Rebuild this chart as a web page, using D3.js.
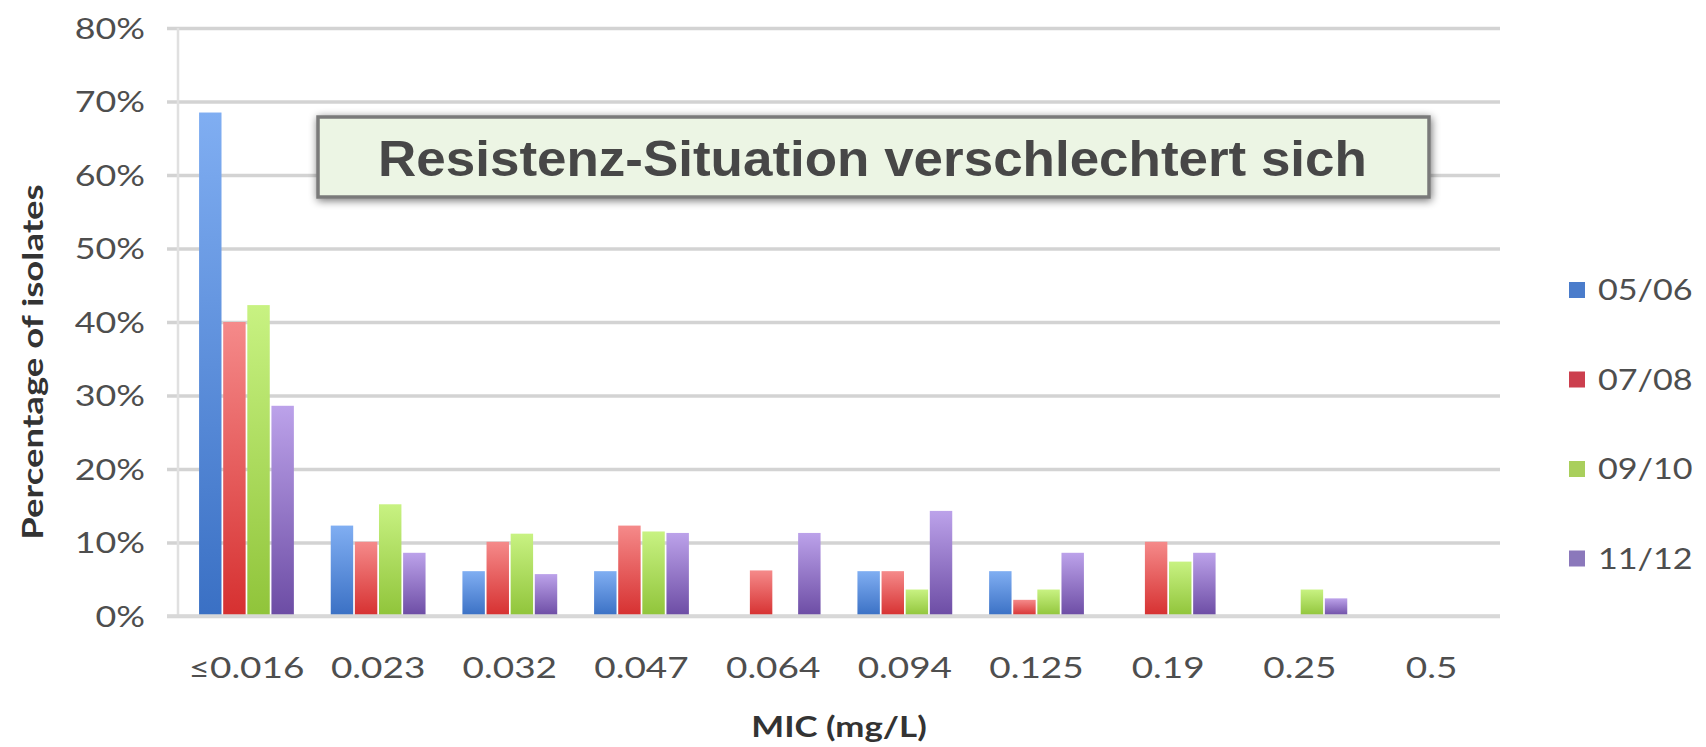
<!DOCTYPE html>
<html><head><meta charset="utf-8">
<script src="https://cdn.jsdelivr.net/npm/d3@7"></script>
<style>body{margin:0;background:#fff;} svg{display:block}</style>
</head><body><svg id="chart" width="1706" height="747"></svg>
<script>
const categories = ["≤0.016","0.023","0.032","0.047","0.064","0.094","0.125","0.19","0.25","0.5"];
const seriesNames = ["05/06","07/08","09/10","11/12"];
const values0506 = [68.5,12.3,6.1,6.1,0,6.1,6.1,0,0,0];
const values0708 = [40,10.1,10.1,12.3,6.2,6.1,2.2,10.1,0,0];
const values0910 = [42.3,15.2,11.2,11.5,0,3.6,3.6,7.4,3.6,0];
const values1112 = [28.6,8.6,5.7,11.3,11.3,14.3,8.6,8.6,2.4,0];
const yTickValues = [0,10,20,30,40,50,60,70,80];
const yTickLabels = ["0%","10%","20%","30%","40%","50%","60%","70%","80%"];
const xTitle = "MIC (mg/L)";
const yTitle = "Percentage of isolates";
const annotation = "Resistenz-Situation verschlechtert sich";

(function(){
const seriesValues = [values0506, values0708, values0910, values1112];
const gradTop = ["#80aef2","#f58a8a","#c8f282","#bca2ea"];
const gradBot = ["#3a70c4","#d63030","#90c43a","#6c4ca4"];
const legendColors = ["#4a7ccb","#cc3f4e","#a9cf5c","#8b78bb"];

const svg = d3.select("#chart");
const pL = 178, pR = 1500, pT = 28, pB = 616;
const sxY = 1.28, sxX = 1.32, sxL = 1.22;
const labelFont = "Lato, 'Open Sans', sans-serif";
const labelColor = "#4e4e4e";

const defs = svg.append("defs");
seriesNames.forEach((s,i)=>{
  const g = defs.append("linearGradient").attr("id","g"+i).attr("x1",0).attr("y1",0).attr("x2",0).attr("y2",1);
  g.append("stop").attr("offset","0%").attr("stop-color",gradTop[i]);
  g.append("stop").attr("offset","100%").attr("stop-color",gradBot[i]);
});
const f = defs.append("filter").attr("id","shadow").attr("x","-5%").attr("y","-30%").attr("width","110%").attr("height","160%");
f.append("feGaussianBlur").attr("in","SourceAlpha").attr("stdDeviation",4).attr("result","b");
f.append("feOffset").attr("in","b").attr("dx",1).attr("dy",2).attr("result","o");
f.append("feComponentTransfer").attr("in","o").attr("result","o2").append("feFuncA").attr("type","linear").attr("slope",0.55);
const fm = f.append("feMerge");
fm.append("feMergeNode").attr("in","o2");
fm.append("feMergeNode").attr("in","SourceGraphic");

const y = d3.scaleLinear().domain([0,80]).range([pB, pT]);
const x0 = d3.scaleBand().domain(categories).range([pL, pR]).paddingInner(0.28).paddingOuter(0.16);
const x1 = d3.scaleBand().domain(seriesNames).range([0, x0.bandwidth()]).paddingInner(0.07);

const grid = svg.append("g").attr("transform",`translate(${pR},0)`)
  .call(d3.axisLeft(y).tickValues(yTickValues).tickSize(pR-pL+11).tickFormat(""));
grid.select(".domain").remove();
grid.selectAll("line").attr("stroke","#d3d3d3").attr("stroke-width",3.5);

svg.append("line").attr("x1",pL).attr("x2",pL).attr("y1",pT).attr("y2",pB)
  .attr("stroke","#e0e0e0").attr("stroke-width",2.5);

const yAx = svg.append("g").attr("transform",`translate(${pL},0)`)
  .call(d3.axisLeft(y).tickValues(yTickValues).tickSize(0).tickPadding(33).tickFormat((d,i)=>yTickLabels[i]));
yAx.select(".domain").remove();
yAx.selectAll("text").each(function(){
  const t = d3.select(this); const xv = +t.attr("x");
  t.attr("x", xv/sxY).attr("transform",`scale(${sxY},1)`);
}).attr("font-family",labelFont).attr("font-size",28).attr("fill",labelColor).attr("dy","0.36em");

const groups = svg.append("g").selectAll("g").data(categories).join("g")
  .attr("transform",d=>`translate(${x0(d)},0)`);
groups.selectAll("rect").data((d,ci)=>seriesNames.map((s,si)=>({s,si,v:seriesValues[si][ci]})).filter(e=>e.v>0))
  .join("rect")
  .attr("x",d=>x1(d.s)).attr("width",x1.bandwidth())
  .attr("y",d=>y(d.v)).attr("height",d=>y(0)-y(d.v))
  .attr("fill",d=>`url(#g${d.si})`);

const xAx = svg.append("g").attr("transform",`translate(0,${pB})`)
  .call(d3.axisBottom(x0).tickSize(0).tickPadding(40));
xAx.select(".domain").attr("stroke","#d8d8d8").attr("stroke-width",3.5).attr("d",`M${pL-11},0H${pR}`);
xAx.selectAll("text").attr("transform",`scale(${sxX},1)`).attr("font-family",labelFont)
  .attr("font-size",28).attr("fill",labelColor).attr("dy","0.36em").attr("y",52);

svg.append("text").attr("transform",`translate(${(pL+pR)/2},737) scale(1.2,1)`)
  .attr("text-anchor","middle").attr("font-family",labelFont).attr("font-weight","bold")
  .attr("font-size",29).attr("fill","#333").text(xTitle);
svg.append("text").attr("transform",`translate(43,362) rotate(-90) scale(1.26,1)`)
  .attr("text-anchor","middle").attr("font-family",labelFont).attr("font-weight","bold")
  .attr("font-size",29).attr("fill","#333").text(yTitle);

const leg = svg.append("g").selectAll("g").data(seriesNames).join("g")
  .attr("transform",(d,i)=>`translate(1569,${290 + i*89.5})`);
leg.append("rect").attr("x",0).attr("y",-8).attr("width",16).attr("height",16).attr("fill",(d,i)=>legendColors[i]);
leg.append("text").attr("transform",`translate(29,0) scale(${sxL},1)`).attr("dy","0.36em")
  .attr("font-family",labelFont).attr("font-size",28).attr("fill",labelColor).text(d=>d);

const bx = 318, by = 117, bw = 1111, bh = 80;
svg.append("rect").attr("x",bx).attr("y",by).attr("width",bw).attr("height",bh)
  .attr("fill","#ecf5e4").attr("stroke","#7a7a7a").attr("stroke-width",3.5).attr("filter","url(#shadow)");
svg.append("text").attr("transform",`translate(${bx+bw/2-1},176) scale(1.07,1)`).attr("text-anchor","middle")
  .attr("font-family","'Liberation Sans', Arial, sans-serif").attr("font-weight","bold")
  .attr("font-size",49.5).attr("fill","#474747").text(annotation);
})();
</script></body></html>
